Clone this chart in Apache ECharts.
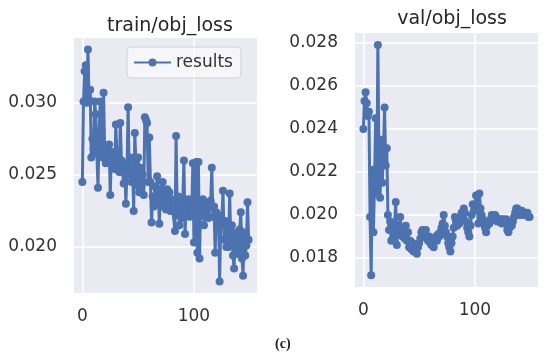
<!DOCTYPE html>
<html><head><meta charset="utf-8">
<script src="https://cdn.jsdelivr.net/npm/echarts@6/dist/echarts.min.js"></script>
<style>html,body{margin:0;padding:0;background:#fff}#c{width:550px;height:358px}</style>
</head><body><div id="c"></div>
<script>
const titles = ["train/obj_loss", "val/obj_loss"];
const seriesName = "results";
const xTicks = [0, 100];
const trainTicks = [0.020, 0.025, 0.030];
const valTicks = [0.018, 0.020, 0.022, 0.024, 0.026, 0.028];
const trainLoss = [
0.0245,0.0301,0.0322,0.0326,0.0300,0.0337,0.0302,0.0309,0.0262,0.0275,
0.0268,0.0301,0.0292,0.0265,0.0241,0.0280,0.0301,0.0270,0.0262,0.0307,
0.0266,0.0258,0.0270,0.0262,0.0271,0.0236,0.0266,0.0258,0.0262,0.0254,
0.0285,0.0262,0.0255,0.0252,0.0286,0.0260,0.0252,0.0244,0.0258,0.0230,
0.0254,0.0297,0.0250,0.0262,0.0245,0.0255,0.0225,0.0279,0.0258,0.0243,
0.0262,0.0238,0.0255,0.0242,0.0250,0.0236,0.0290,0.0288,0.0286,0.0245,
0.0276,0.0245,0.0217,0.0235,0.0228,0.0242,0.0230,0.0249,0.0238,0.0216,
0.0240,0.0228,0.0245,0.0232,0.0236,0.0226,0.0240,0.0231,0.0238,0.0225,
0.0233,0.0226,0.0226,0.0211,0.0277,0.0222,0.0235,0.0215,0.0228,0.0220,
0.0232,0.0260,0.0209,0.0230,0.0225,0.0233,0.0221,0.0230,0.0226,0.0258,
0.0203,0.0232,0.0259,0.0196,0.0259,0.0192,0.0230,0.0222,0.0233,0.0215,
0.0228,0.0222,0.0231,0.0220,0.0227,0.0232,0.0255,0.0221,0.0228,0.0196,
0.0224,0.0215,0.0222,0.0176,0.0215,0.0218,0.0239,0.0205,0.0218,0.0200,
0.0213,0.0200,0.0237,0.0205,0.0215,0.0194,0.0185,0.0210,0.0198,0.0205,
0.0195,0.0212,0.0224,0.0192,0.0180,0.0210,0.0194,0.0201,0.0231,0.0205];
const valLoss = [
0.0240,0.0253,0.0257,0.0252,0.0246,0.0248,0.0199,0.0172,0.0221,0.0192,
0.0215,0.0245,0.0210,0.0279,0.0225,0.0208,0.0235,0.0215,0.0230,0.0250,
0.0223,0.0231,0.0200,0.0193,0.0197,0.0188,0.0193,0.0190,0.0196,0.0206,
0.0186,0.0195,0.0191,0.0199,0.0193,0.0190,0.0194,0.0189,0.0195,0.0188,
0.0192,0.0185,0.0188,0.0184,0.0187,0.0183,0.0186,0.0184,0.0182,0.0185,
0.0187,0.0189,0.0192,0.0193,0.0190,0.0192,0.0193,0.0189,0.0188,0.0190,
0.0187,0.0186,0.0188,0.0185,0.0189,0.0190,0.0188,0.0191,0.0190,0.0192,
0.0194,0.0196,0.0200,0.0195,0.0192,0.0190,0.0187,0.0185,0.0183,0.0187,
0.0190,0.0194,0.0199,0.0197,0.0195,0.0198,0.0196,0.0199,0.0201,0.0198,
0.0203,0.0201,0.0197,0.0194,0.0192,0.0190,0.0195,0.0200,0.0205,0.0202,
0.0204,0.0209,0.0205,0.0196,0.0210,0.0203,0.0200,0.0198,0.0196,0.0194,
0.0192,0.0195,0.0197,0.0196,0.0198,0.0200,0.0199,0.0198,0.0200,0.0199,
0.0197,0.0198,0.0197,0.0198,0.0196,0.0198,0.0197,0.0196,0.0198,0.0193,
0.0192,0.0194,0.0196,0.0195,0.0197,0.0199,0.0201,0.0203,0.0203,0.0202,
0.0200,0.0201,0.0202,0.0200,0.0201,0.0201,0.0200,0.0201,0.0199,0.0199];

const FONT = "DejaVu Sans";
const BLUE = "#4C72B0";
const toPairs = arr => arr.map((v, i) => [i, v]);

function xAx(gi) {
  return {
    type: "value", gridIndex: gi, min: -7.5, max: 156.5,
    axisLine: {show: false},
    axisTick: {show: false, customValues: xTicks},
    axisLabel: {customValues: xTicks, color: "#333", fontFamily: FONT, fontSize: 17, margin: 15},
    splitLine: {show: true, lineStyle: {color: "#fff", width: 1.5}}
  };
}
function yAx(gi, ticks, min, max) {
  return {
    type: "value", gridIndex: gi, min: min, max: max,
    axisLine: {show: false},
    axisTick: {show: false, customValues: ticks},
    axisLabel: {customValues: ticks, color: "#333", fontFamily: FONT, fontSize: 17, margin: 17,
      formatter: v => v.toFixed(3)},
    splitLine: {show: true, lineStyle: {color: "#fff", width: 1.5}}
  };
}
const lineSeries = (data, idx) => ({
  name: seriesName, type: "line", xAxisIndex: idx, yAxisIndex: idx,
  data: toPairs(data), symbol: "circle", symbolSize: 8, showSymbol: true,
  lineStyle: {color: BLUE, width: 3}, itemStyle: {color: BLUE},
  animation: false, silent: true
});

const chart = echarts.init(document.getElementById("c"), null, {renderer: "canvas"});
chart.setOption({
  animation: false,
  backgroundColor: "#fff",
  title: [
    {text: titles[0], left: 165, top: 12, textAlign: "center",
     textStyle: {fontFamily: FONT, fontSize: 19, fontWeight: "normal", color: "#262626"}},
    {text: titles[1], left: 447, top: 5, textAlign: "center",
     textStyle: {fontFamily: FONT, fontSize: 19, fontWeight: "normal", color: "#262626"}}
  ],
  grid: [
    {left: 74, top: 38, width: 183, height: 255, show: true, backgroundColor: "#EAEAF2", borderWidth: 0},
    {left: 355, top: 33, width: 183, height: 254, show: true, backgroundColor: "#EAEAF2", borderWidth: 0}
  ],
  xAxis: [xAx(0), xAx(1)],
  yAxis: [yAx(0, trainTicks, 0.0168, 0.0345), yAx(1, valTicks, 0.01665, 0.02846)],
  legend: {
    data: [seriesName], left: 127, top: 47, orient: "horizontal",
    itemWidth: 37, itemHeight: 10, itemGap: 10,
    padding: [7, 8, 7, 6],
    backgroundColor: "rgba(255,255,255,0.55)", borderColor: "#d0d0d6", borderWidth: 1, borderRadius: 4,
    textStyle: {fontFamily: FONT, fontSize: 17, color: "#333"}
  },
  graphic: [
    {type: "text", left: 275, top: 337, style: {text: "(c)", font: "bold 14px 'Liberation Serif'", fill: "#222"}}
  ],
  series: [lineSeries(trainLoss, 0), lineSeries(valLoss, 1)]
});
</script>
</body></html>
